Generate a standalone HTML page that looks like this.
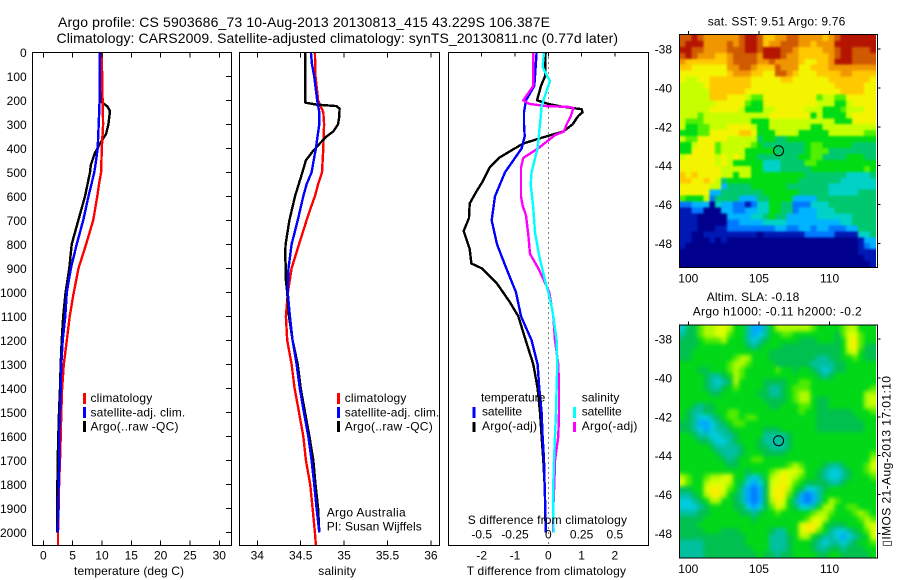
<!DOCTYPE html>
<html>
<head>
<meta charset="utf-8">
<title>Argo profile 5903686_73</title>
<style>
html,body{margin:0;padding:0;background:#fff}
body{width:900px;height:580px;overflow:hidden}
svg{display:block}
text{font-family:"Liberation Sans",sans-serif;font-size:12px;fill:#000}
.t14{font-size:14px}
</style>
</head>
<body>
<svg id="chart" xmlns="http://www.w3.org/2000/svg" width="900" height="580" viewBox="0 0 900 580">
<defs>
<clipPath id="clip-map1"><rect x="679.5" y="34.5" width="196.5" height="233"/></clipPath>
<clipPath id="clip-map2"><rect x="679.5" y="325" width="196.5" height="233"/></clipPath>
<filter id="blur-map1" filterUnits="userSpaceOnUse" x="660" y="10" width="240" height="280" color-interpolation-filters="sRGB"><feGaussianBlur stdDeviation="1"/></filter>
<filter id="blur-map2" filterUnits="userSpaceOnUse" x="660" y="300" width="240" height="280" color-interpolation-filters="sRGB"><feGaussianBlur stdDeviation="2.2"/></filter>
</defs>
<rect x="0" y="0" width="900" height="580" fill="#fff"/>
<g id="map1"></g>
<g id="map2"></g>
<g id="panels"></g>

<text class="t14" x="58" y="27" textLength="492" lengthAdjust="spacing">Argo profile: CS 5903686_73 10-Aug-2013 20130813_415 43.229S 106.387E</text>
<text class="t14" x="56.5" y="43" textLength="561.5" lengthAdjust="spacing">Climatology: CARS2009. Satellite-adjusted climatology: synTS_20130811.nc (0.77d later)</text>

<text x="74" y="575" textLength="110" lengthAdjust="spacing">temperature (deg C)</text>
<text x="318.3" y="575" textLength="37.7" lengthAdjust="spacing">salinity</text>
<text x="466.7" y="575" textLength="159.3" lengthAdjust="spacing">T difference from climatology</text>
<text x="467.7" y="524" textLength="159.3" lengthAdjust="spacing">S difference from climatology</text>

<g>
<rect x="83" y="393" width="3" height="11" fill="#f00"/>
<rect x="83" y="407" width="3" height="11" fill="#00f"/>
<rect x="83" y="421" width="3" height="11" fill="#000"/>
<text x="90.5" y="402" textLength="61.7" lengthAdjust="spacing">climatology</text>
<text x="90.5" y="416.5" textLength="94.7" lengthAdjust="spacing">satellite-adj. clim.</text>
<text x="90.5" y="430.5" textLength="88" lengthAdjust="spacing">Argo(..raw -QC)</text>
</g>
<g>
<rect x="337" y="393" width="3" height="11" fill="#f00"/>
<rect x="337" y="407" width="3" height="11" fill="#00f"/>
<rect x="337" y="421" width="3" height="11" fill="#000"/>
<text x="344.7" y="402" textLength="61.7" lengthAdjust="spacing">climatology</text>
<text x="344.7" y="416.5" textLength="94.7" lengthAdjust="spacing">satellite-adj. clim.</text>
<text x="344.7" y="430.5" textLength="88" lengthAdjust="spacing">Argo(..raw -QC)</text>
<text x="326.7" y="516.7" textLength="79" lengthAdjust="spacing">Argo Australia</text>
<text x="326.7" y="530.7" textLength="95" lengthAdjust="spacing">PI: Susan Wijffels</text>
</g>
<g>
<text x="481" y="401.7" textLength="64.3" lengthAdjust="spacing">temperature</text>
<rect x="472.5" y="407" width="3" height="11" fill="#00f"/>
<text x="482" y="415.7" textLength="40" lengthAdjust="spacing">satellite</text>
<rect x="472.5" y="422" width="3" height="10" fill="#000"/>
<text x="482" y="430" textLength="55" lengthAdjust="spacing">Argo(-adj)</text>
<text x="581.7" y="401.7" textLength="37.7" lengthAdjust="spacing">salinity</text>
<rect x="573" y="407" width="3" height="11" fill="#0ff"/>
<text x="581.7" y="415.7" textLength="40" lengthAdjust="spacing">satellite</text>
<rect x="573" y="422" width="3" height="10" fill="#f0f"/>
<text x="581.7" y="430" textLength="55.7" lengthAdjust="spacing">Argo(-adj)</text>
</g>

<text x="707.7" y="25.7" textLength="137.6" lengthAdjust="spacing">sat. SST: 9.51  Argo: 9.76</text>
<text x="706.7" y="301" textLength="92.6" lengthAdjust="spacing">Altim. SLA: -0.18</text>
<text x="692.7" y="315.7" textLength="169" lengthAdjust="spacing">Argo h1000: -0.11 h2000: -0.2</text>
<text transform="translate(890.7,546.7) rotate(-90)" x="0" y="0" textLength="170.7" lengthAdjust="spacing">▯IMOS 21-Aug-2013 17:01:10</text>
</svg>

<script>
// ---- profile data (depth in dbar) ----
const depthTicks = [0,100,200,300,400,500,600,700,800,900,1000,1100,1200,1300,1400,1500,1600,1700,1800,1900,2000];
const tempTicks = [0,5,10,15,20,25,30];
const salTicks = [34,34.5,35,35.5,36];
const salTickLabels = ['34','34.5','35','35.5','36'];
const tDiffTicks = [-2,-1,0,1,2];
const sDiffTicks = [-0.5,-0.25,0,0.25,0.5];
const sDiffTickLabels = ['-0.5','-0.25','0','0.25','0.5'];

const climTempDepth = [0,200,300,400,500,550,600,700,800,900,1000,1100,1200,1300,1400,1500,1600,1700,1800,1900,2000,2055];
const climTemp = [9.95,10.1,10.2,9.97,9.85,9.5,9.2,8.5,7.3,6.0,5.2,4.5,4.0,3.5,3.2,3.07,2.96,2.85,2.7,2.6,2.5,2.5];
const satTempDepth = [0,200,300,400,450,500,600,700,800,900,1000,1100,1200,1300,1400,1500,1600,1700,1800,1900,2000];
const satTemp = [9.6,9.6,9.44,9.27,9.0,8.7,7.7,6.8,5.7,4.7,4.0,3.75,3.3,3.07,2.96,2.85,2.73,2.73,2.6,2.56,2.45];
const argoTempDepth = [0,205,225,245,300,340,380,420,470,500,600,700,800,900,1000,1100,1200,1300,1400,1500,1600,1700,1800,1900,2000];
const argoTemp = [9.6,9.75,10.9,11.37,11.1,10.7,9.66,8.8,8.1,7.96,7.1,5.97,4.84,4.43,3.8,3.4,3.14,2.96,2.85,2.68,2.56,2.45,2.4,2.4,2.4];

const climSalDepth = [0,100,200,250,300,400,500,550,600,650,700,800,900,1000,1100,1200,1300,1400,1500,1600,1700,1800,1900,2000,2055];
const climSal = [34.664,34.67,34.70,34.76,34.77,34.76,34.745,34.70,34.664,34.614,34.568,34.48,34.395,34.353,34.33,34.345,34.395,34.43,34.48,34.53,34.56,34.61,34.637,34.664,34.675];
const satSalDepth = [0,50,100,200,250,300,350,400,450,500,550,600,700,800,900,1000,1100,1200,1300,1400,1500,1600,1700,1800,1900,2000];
const satSal = [34.618,34.63,34.656,34.69,34.714,34.714,34.695,34.675,34.65,34.626,34.568,34.53,34.465,34.395,34.36,34.35,34.376,34.407,34.453,34.49,34.537,34.587,34.626,34.656,34.683,34.714];
const argoSalDepth = [0,210,218,224,235,270,300,330,350,380,410,450,500,600,700,800,850,900,950,1000,1100,1200,1300,1400,1500,1600,1700,1800,1900,2000];
const argoSal = [34.553,34.553,34.683,34.914,34.948,34.944,34.93,34.875,34.8,34.72,34.645,34.56,34.52,34.434,34.37,34.326,34.32,34.33,34.33,34.345,34.365,34.407,34.465,34.5,34.55,34.6,34.645,34.67,34.7,34.714];

const satDiffTDepth = [0,100,140,200,250,300,350,400,500,600,700,800,900,1000,1100,1200,1300,1400,1500,1600,1700,1800,1900,2000];
const satDiffT = [-0.35,-0.4,-0.42,-0.67,-0.73,-0.73,-0.71,-0.8,-1.3,-1.6,-1.7,-1.54,-1.26,-0.97,-0.82,-0.5,-0.32,-0.27,-0.2,-0.17,-0.13,-0.11,-0.09,-0.07];
const argoDiffTDepth = [0,100,140,200,215,225,237,250,265,300,330,350,380,400,440,480,540,580,630,690,745,820,880,900,960,1040,1100,1200,1300,1400,1500,1600,1700,1800,1900,2000];
const argoDiffT = [-0.08,-0.1,-0.22,-0.34,0,0.35,1.0,1.03,0.9,0.73,0.45,-0.05,-0.75,-1.0,-1.48,-1.76,-1.98,-2.16,-2.36,-2.38,-2.54,-2.36,-2.31,-2.0,-1.56,-1.16,-0.9,-0.68,-0.45,-0.32,-0.25,-0.2,-0.15,-0.11,-0.09,-0.08];
const argoDiffSDepth = [0,140,170,200,215,224,228,232,265,300,330,345,400,440,480,600,640,680,760,840,900,960,1000,1060,1100,1200,1300,1400,1500,1600,1700,1800,1900,2000];
const argoDiffS = [-0.45,-0.45,-0.6,-0.75,-0.57,-0.05,0.65,0.75,0.68,0.55,0.47,0.2,-0.3,-0.75,-0.82,-0.82,-0.77,-0.67,-0.6,-0.55,-0.3,-0.1,0.03,0.1,0.15,0.2,0.3,0.32,0.32,0.3,0.2,0.18,0.15,0.15];
const satDiffSDepth = [0,60,100,120,180,225,300,400,500,550,650,750,850,950,1000,1060,1100,1200,1300,1400,1500,1600,1700,1800,1900,2000];
const satDiffS = [-0.13,-0.17,-0.03,0.05,-0.1,-0.2,-0.25,-0.32,-0.5,-0.53,-0.45,-0.4,-0.27,-0.1,0,0.1,0.15,0.25,0.27,0.25,0.23,0.2,0.17,0.15,0.15,0.16];
const zeroLineDepth = [0,2055];
const zeroLineValue = [0,0];

// ---- map data (colour levels) ----
const lonTicks = [100,105,110];
const latTicks = [-38,-40,-42,-44,-46,-48];
const profileLon = 106.387;
const profileLat = -43.229;
const sstLevels = [
[12,12,13,12,11,11,11,11,11,11,12,13,13,12,10,10,11,11,12,12,11,11,11,11,10,11,12,13,13,13,13,13,13],
[12,13,13,13,11,11,11,11,12,11,12,13,13,12,10,11,11,12,12,12,11,11,10,11,11,11,13,13,13,13,13,13,13],
[13,13,12,12,11,11,11,11,12,12,12,13,13,12,13,13,13,12,12,11,10,10,10,10,11,11,12,13,13,12,12,12,13],
[12,13,12,11,11,11,10,10,11,12,12,12,12,11,13,13,13,12,11,11,10,10,10,10,10,11,12,13,13,12,12,12,12],
[11,10,10,10,10,10,10,10,11,12,12,12,12,11,11,12,11,11,11,11,10,9,9,10,10,11,13,13,13,12,12,12,12],
[10,10,9,9,9,9,9,9,11,11,12,12,11,10,10,10,12,11,11,11,9,9,10,10,10,11,11,11,11,11,11,11,11],
[9,9,9,9,9,9,9,9,10,11,11,11,10,10,9,9,12,12,11,10,9,9,9,10,10,10,10,11,11,10,10,10,10],
[9,8,8,9,9,10,10,10,10,10,10,10,9,9,9,9,9,10,10,9,9,9,9,9,9,10,10,10,10,10,10,10,9],
[8,8,8,8,9,10,10,10,10,10,10,10,9,9,9,9,9,9,9,9,9,9,9,9,9,9,10,10,10,10,10,9,9],
[8,8,8,8,8,10,10,10,10,10,10,9,9,9,9,9,9,9,9,9,9,9,9,9,9,9,9,10,10,10,10,9,9],
[8,8,8,8,8,10,10,10,9,9,9,8,7,7,9,9,9,9,9,9,9,9,9,7,8,8,7,7,9,9,9,9,9],
[8,8,8,8,8,8,9,9,9,9,9,7,6,6,9,9,9,9,9,9,9,9,9,8,8,8,6,6,8,9,9,9,9],
[8,8,8,8,8,9,9,9,9,9,8,6,6,6,8,8,9,9,9,9,9,8,8,8,6,6,6,7,8,8,8,9,9],
[8,8,8,7,8,8,8,8,8,8,8,8,8,8,8,9,9,9,9,9,9,9,6,8,6,6,6,6,8,9,9,9,9],
[8,7,7,7,8,8,8,8,8,8,8,8,6,6,6,8,8,8,8,8,8,8,8,8,8,8,6,6,6,9,9,9,9],
[8,6,6,7,7,8,8,8,9,9,9,9,8,6,6,8,8,8,8,8,8,8,6,6,8,8,8,8,8,8,8,8,8],
[6,6,6,7,7,9,9,9,9,9,10,10,9,6,6,6,8,8,8,8,6,6,6,6,6,8,8,8,8,8,8,7,7],
[8,7,7,9,9,9,9,9,8,8,8,8,8,5,6,6,5,5,6,6,6,6,6,6,6,6,6,6,6,6,6,6,6],
[6,6,8,9,9,9,7,8,8,8,8,8,7,6,5,5,5,5,5,5,5,6,7,7,6,6,6,6,6,5,5,5,5],
[6,6,9,9,9,9,7,8,8,8,8,6,6,6,6,6,5,5,5,5,5,6,7,7,7,5,5,5,5,5,5,5,5],
[8,9,9,9,9,9,8,9,8,9,8,6,6,5,5,5,5,5,5,5,6,6,7,7,5,5,5,5,6,6,6,5,5],
[9,9,9,9,9,9,8,9,8,6,6,6,6,6,4,4,4,5,5,5,5,7,7,6,6,6,6,6,6,6,6,6,6],
[9,9,9,9,9,9,9,8,8,8,8,8,6,6,4,4,4,5,5,5,5,5,6,6,6,6,6,6,6,6,6,7,6],
[10,9,10,9,9,9,9,8,8,6,8,8,6,6,6,6,6,6,6,6,6,5,5,5,5,5,5,5,4,4,4,4,5],
[10,10,9,9,10,9,8,5,6,6,6,6,6,6,6,6,6,6,6,6,5,5,5,5,5,5,5,4,4,4,4,4,4],
[9,9,9,9,9,8,8,3,5,5,5,5,6,6,6,6,6,6,5,5,5,5,5,5,5,4,4,4,4,4,4,4,4],
[9,9,9,9,9,3,3,5,5,5,5,5,5,5,6,6,6,6,6,6,5,5,5,5,5,4,4,4,4,4,5,5,5],
[7,6,6,6,8,2,5,5,5,5,3,3,3,5,5,6,6,6,6,3,3,3,3,5,5,5,5,5,5,5,5,5,5],
[2,2,3,3,3,0,4,3,3,2,2,1,2,4,4,6,6,5,5,2,2,2,4,4,4,5,5,5,5,5,5,5,5],
[1,1,2,2,0,0,0,3,3,2,2,3,3,4,4,6,6,5,5,2,3,3,3,4,4,4,5,5,5,5,5,5,5],
[1,1,1,0,0,0,0,0,3,3,3,3,4,4,5,6,5,5,3,3,3,3,3,4,4,4,4,4,4,5,5,5,5],
[1,1,1,0,0,0,0,0,2,2,3,3,3,3,4,4,4,4,3,3,3,3,3,3,3,3,3,4,4,5,5,5,5],
[1,1,1,0,0,0,1,1,2,2,2,2,2,2,2,2,3,3,2,2,3,3,2,3,3,2,2,2,3,3,5,5,5],
[1,1,0,0,1,1,1,1,1,1,1,1,1,0,1,1,1,1,1,1,1,2,2,2,2,2,1,1,1,1,4,4,5],
[1,1,0,0,0,1,0,1,0,0,0,0,0,0,0,0,0,0,0,0,0,0,0,0,0,0,0,0,0,0,1,3,3],
[1,0,0,0,0,0,0,0,0,0,0,0,0,0,0,0,0,0,0,0,0,0,0,0,0,0,0,0,0,0,1,2,3],
[0,0,0,0,0,0,0,0,0,0,0,0,0,0,0,0,0,0,0,0,0,0,0,0,0,0,0,0,0,0,1,1,1],
[0,0,0,0,0,0,0,0,0,0,0,0,0,0,0,0,0,0,0,0,0,0,0,0,0,0,0,0,0,0,0,1,1],
[0,0,0,0,0,0,0,0,0,0,0,0,0,0,0,0,0,0,0,0,0,0,0,0,0,0,0,0,0,0,0,0,1]
];
const slaLevels = [
[2,4,4,6,7,7,8,8,7,5,5,3,1,1,3,5,7,7,7,7,7,7,6,5,5,5,5,6,7,7,5,5,5],
[3,4,4,6,7,7,8,8,6,5,5,3,1,2,3,5,5,6,6,5,5,5,5,5,5,5,4,6,8,8,6,5,5],
[4,4,4,5,6,6,6,7,5,5,5,3,2,3,4,5,5,5,5,5,4,4,4,5,5,5,4,5,8,9,6,5,5],
[4,4,4,5,5,5,5,5,5,5,5,4,3,4,5,5,5,4,4,4,4,4,4,4,4,4,4,5,8,9,6,4,4],
[4,4,5,5,5,5,5,5,5,5,5,5,5,5,5,4,4,4,4,4,4,4,4,4,4,4,4,5,7,8,5,4,4],
[4,4,5,5,5,5,5,5,5,6,7,7,5,5,5,4,4,4,4,4,4,4,4,3,3,4,4,5,5,6,5,4,4],
[5,5,5,5,5,5,5,5,6,7,7,6,5,5,5,5,4,4,4,4,4,4,3,3,3,3,4,4,5,5,5,5,5],
[5,5,5,4,4,5,5,5,6,7,6,5,5,5,5,5,6,5,5,4,5,5,4,3,2,3,4,4,5,5,5,5,5],
[5,5,5,5,4,3,3,4,5,7,6,5,5,5,5,5,5,5,5,5,5,5,5,4,3,4,5,5,5,5,5,5,5],
[5,5,5,5,4,3,2,3,4,7,5,5,5,5,4,4,4,4,5,5,6,6,5,5,5,5,5,5,5,5,5,5,5],
[5,5,5,5,4,3,3,4,5,6,5,5,5,5,4,3,3,4,5,6,6,6,5,5,5,5,5,5,5,5,5,5,6],
[5,5,5,5,5,4,4,5,5,5,5,5,5,4,4,3,3,4,5,6,7,7,5,5,5,5,5,5,5,5,5,7,7],
[5,5,5,5,5,5,5,5,5,5,5,5,5,5,4,4,4,4,5,6,7,7,5,4,4,5,5,5,5,5,5,7,8],
[5,5,4,3,4,4,5,5,5,5,5,5,5,5,5,4,4,5,5,5,6,6,5,4,4,5,5,5,5,5,5,7,7],
[5,4,3,3,4,4,5,5,6,6,5,5,5,5,5,5,5,5,5,5,6,5,5,4,4,4,4,4,4,5,5,5,6],
[5,4,3,2,2,3,4,5,6,6,5,6,6,5,5,5,5,5,5,5,5,5,5,4,4,4,4,4,4,4,5,5,5],
[4,4,3,1,1,2,3,4,5,6,6,5,5,5,5,5,5,5,5,5,5,5,5,4,4,4,4,4,4,4,4,5,5],
[4,4,3,2,1,2,3,3,4,5,5,5,5,5,4,4,4,5,5,5,5,5,5,4,4,4,4,4,4,4,4,5,5],
[5,5,4,3,3,2,2,3,3,4,5,5,5,5,3,3,3,3,4,5,5,5,5,5,5,5,5,5,5,5,5,5,5],
[5,5,5,4,4,3,2,2,3,4,5,5,5,4,3,3,3,3,4,5,5,5,5,5,5,5,5,5,5,5,5,5,5],
[5,5,5,5,5,4,3,3,3,3,4,5,5,4,4,3,3,3,4,5,5,5,5,5,5,5,5,5,5,5,5,5,5],
[5,5,5,5,5,5,4,3,3,3,4,5,5,5,4,4,4,4,5,5,5,5,5,5,5,5,5,5,5,5,5,5,6],
[5,5,5,5,5,5,5,4,3,4,5,5,6,6,5,5,5,5,5,5,5,5,5,5,5,5,5,5,5,5,5,5,7],
[5,5,5,5,5,5,5,5,4,4,5,5,5,5,5,5,5,5,6,7,6,5,5,5,4,3,3,4,5,5,5,6,8],
[5,5,5,5,5,5,5,5,5,5,5,4,5,5,5,6,7,8,8,8,7,5,5,4,3,2,2,3,4,5,5,6,7],
[7,6,5,5,6,7,7,8,8,5,5,3,2,3,5,7,8,9,8,7,6,5,5,4,3,2,2,3,4,5,5,5,6],
[8,6,5,5,7,8,8,8,7,5,4,2,1,2,4,8,8,9,8,6,5,4,4,4,4,3,3,4,5,5,5,5,5],
[4,4,5,5,8,9,9,8,6,5,3,1,0,1,4,8,9,9,7,5,4,2,2,3,4,5,5,5,5,5,5,5,5],
[3,3,4,5,7,9,9,7,5,4,3,1,0,1,4,8,9,9,6,4,1,0,1,3,5,5,5,5,5,5,5,5,5],
[2,2,3,4,5,7,7,5,5,4,3,1,0,1,4,7,9,8,5,3,1,0,1,3,5,7,6,5,5,5,5,5,5],
[2,2,2,3,4,5,5,5,5,4,4,2,1,2,4,6,8,7,5,4,2,2,3,5,7,7,5,5,6,6,5,5,5],
[3,3,3,4,4,5,5,5,5,5,4,4,3,4,5,5,6,5,5,5,5,5,6,7,7,6,5,5,5,6,7,6,5],
[4,4,4,4,5,5,5,5,5,5,5,5,4,5,5,5,5,5,5,5,5,6,8,8,7,5,5,5,5,5,6,7,6],
[4,4,4,5,5,5,5,5,5,5,5,5,5,5,5,5,5,5,5,5,8,9,9,8,5,4,4,4,5,5,5,7,8],
[4,4,4,4,5,5,5,4,4,4,5,5,5,5,5,4,3,3,5,5,8,9,9,6,5,3,2,2,3,4,5,6,8],
[4,4,4,4,4,4,4,4,4,4,4,5,5,5,5,3,3,3,4,5,7,7,5,4,3,3,2,1,2,3,4,5,8],
[3,3,3,3,4,4,4,4,4,4,4,5,5,5,5,3,3,3,4,5,5,5,4,3,2,3,3,2,3,4,5,5,6],
[3,3,3,3,4,4,4,4,4,4,4,4,5,5,5,3,3,3,4,5,5,5,4,3,3,4,4,3,4,4,4,5,5],
[3,3,3,3,4,4,4,4,4,4,4,4,4,5,4,4,3,4,4,5,5,5,5,4,4,5,5,4,4,4,4,4,5]
];
const sstPalette = ['#00008c','#0018b4','#0078ff','#00b4ff','#00d2c8','#00c86e','#00dc14','#50f000','#c8ff00','#f4f400','#ffc800','#f09600','#d05a00','#b41400'];
const slaPalette = ['#0078ff','#00a8ff','#00ccdc','#00c0a0','#00c050','#00d818','#50ec00','#b0fa00','#dcff00','#f8f000'];

// ---- axis functions ----
const NS = 'http://www.w3.org/2000/svg';
const yDepth = d => 52.3 + 0.24 * d;
const xTemp = t => 43.3 + 5.867 * t;
const xSal = s => 257.3 + 86.8 * (s - 34);
const xTDiff = t => 548.3 + 33.3 * t;
const xSDiff = s => 548.3 + 133.2 * s;
const xLon = lon => 688.3 + 14.13 * (lon - 100);

const panelsG = document.getElementById('panels');

function svgEl(tag, parent) {
  const el = document.createElementNS(NS, tag);
  parent.appendChild(el);
  return el;
}
function line(parent, x1, y1, x2, y2, name) {
  const el = svgEl('line', parent);
  el.setAttribute('x1', x1); el.setAttribute('y1', y1);
  el.setAttribute('x2', x2); el.setAttribute('y2', y2);
  el.setAttribute('stroke', '#000');
  el.setAttribute('stroke-width', 1);
  el.setAttribute('shape-rendering', 'crispEdges');
  
  
  return el;
}
function label(parent, x, y, str, anchor, name) {
  const el = svgEl('text', parent);
  el.setAttribute('x', x); el.setAttribute('y', y);
  el.setAttribute('text-anchor', anchor);
  el.textContent = str;
  
  
  return el;
}
function frame(parent, x, y, w, h, name) {
  const el = svgEl('rect', parent);
  el.setAttribute('x', x); el.setAttribute('y', y);
  el.setAttribute('width', w); el.setAttribute('height', h);
  el.setAttribute('fill', 'none');
  el.setAttribute('stroke', '#000');
  el.setAttribute('stroke-width', 1);
  el.setAttribute('shape-rendering', 'crispEdges');
  
  
}
function series(parent, xs, ds, xf, color, name, width, dash) {
  const el = svgEl('polyline', parent);
  el.setAttribute('points', xs.map((v, i) => xf(v).toFixed(1) + ',' + yDepth(ds[i]).toFixed(1)).join(' '));
  el.setAttribute('fill', 'none');
  el.setAttribute('stroke', color);
  el.setAttribute('stroke-width', width);
  if (dash) el.setAttribute('stroke-dasharray', dash);
  el.setAttribute('shape-rendering', 'crispEdges');
  el.setAttribute('stroke-linejoin', 'round');
  
  
}

const panelTop = 52.5, panelBottom = 545.5;
const LW = 2.4;

// temperature panel
const p1 = svgEl('g', panelsG);


series(p1, argoTemp, argoTempDepth, xTemp, '#000', 'series-argo-temperature', LW);
series(p1, climTemp, climTempDepth, xTemp, '#f00', 'series-climatology-temperature', LW);
series(p1, satTemp, satTempDepth, xTemp, '#00f', 'series-satellite-temperature', LW);
frame(p1, 32.5, panelTop, 199, panelBottom - panelTop, 'temperature-panel-frame');
depthTicks.forEach(d => {
  line(p1, 226, yDepth(d), 231, yDepth(d), 'depth-tick');
  label(p1, 26.7, yDepth(d) + 4.5, String(d), 'end', 'depth-tick-label');
});
tempTicks.forEach(t => {
  line(p1, xTemp(t), panelTop, xTemp(t), panelTop + 5, 'temperature-top-tick');
  line(p1, xTemp(t), panelBottom, xTemp(t), panelBottom - 5, 'temperature-bottom-tick');
  label(p1, xTemp(t), 559.5, String(t), 'middle', 'temperature-tick-label');
});

// salinity panel
const p2 = svgEl('g', panelsG);


series(p2, climSal, climSalDepth, xSal, '#f00', 'series-climatology-salinity', LW);
series(p2, argoSal, argoSalDepth, xSal, '#000', 'series-argo-salinity', LW);
series(p2, satSal, satSalDepth, xSal, '#00f', 'series-satellite-salinity', LW);
frame(p2, 239.5, panelTop, 200, panelBottom - panelTop, 'salinity-panel-frame');
salTicks.forEach((s, i) => {
  line(p2, xSal(s), panelTop, xSal(s), panelTop + 5, 'salinity-top-tick');
  line(p2, xSal(s), panelBottom, xSal(s), panelBottom - 5, 'salinity-bottom-tick');
  label(p2, xSal(s), 559.5, salTickLabels[i], 'middle', 'salinity-tick-label');
});

// difference panel
const p3 = svgEl('g', panelsG);


series(p3, zeroLineValue, zeroLineDepth, xTDiff, '#000', 'zero-difference-line', 1, '1 4');
series(p3, argoDiffT, argoDiffTDepth, xTDiff, '#000', 'series-argo-t-difference', LW);
series(p3, satDiffT, satDiffTDepth, xTDiff, '#00f', 'series-satellite-t-difference', LW);
series(p3, argoDiffS, argoDiffSDepth, xTDiff, '#f0f', 'series-argo-s-difference', LW);
series(p3, satDiffS, satDiffSDepth, xTDiff, '#0ff', 'series-satellite-s-difference', LW);
frame(p3, 448.5, panelTop, 200, panelBottom - panelTop, 'difference-panel-frame');
tDiffTicks.forEach(t => {
  line(p3, xTDiff(t), panelTop, xTDiff(t), panelTop + 4, 'difference-top-tick');
  label(p3, xTDiff(t), 559.5, String(t), 'middle', 't-difference-tick-label');
});
sDiffTicks.forEach((s, i) => {
  label(p3, xSDiff(s), 538.7, sDiffTickLabels[i], 'middle', 's-difference-tick-label');
});

// maps
function drawMap(gid, levels, palette, top, lat38Y, labelY) {
  const g = document.getElementById(gid);
  const rows = levels.length, cols = levels[0].length;
  const left = 679.5, mapW = 196.5, mapH = 232;
  const cw = mapW / cols, ch = mapH / rows;
  const yLat = lat => lat38Y + 19.45 * (-38 - lat);
  const clipG = svgEl('g', g);
  clipG.setAttribute('clip-path', 'url(#clip-' + gid + ')');
  
  
  const cellsG = svgEl('g', clipG);
  cellsG.setAttribute('filter', 'url(#blur-' + gid + ')');
  
  
  levels.forEach((row, r) => {
    row.forEach((v, c) => {
      const cell = svgEl('rect', cellsG);
      // edge cells extend past the clip so the blur does not fade at the border
      const padL = c === 0 ? 10 : 0, padR = c === cols - 1 ? 10 : 0;
      const padT = r === 0 ? 10 : 0, padB = r === rows - 1 ? 10 : 0;
      cell.setAttribute('x', (left + c * cw - padL).toFixed(2));
      cell.setAttribute('y', (top + r * ch - padT).toFixed(2));
      cell.setAttribute('width', (cw + 0.4 + padL + padR).toFixed(2));
      cell.setAttribute('height', (ch + 0.4 + padT + padB).toFixed(2));
      cell.setAttribute('fill', palette[v]);
      cell.setAttribute('shape-rendering', 'crispEdges');
      
      
    });
  });
  frame(g, 679.5, top - 0.5, 198, mapH + 1, 'map-frame');
  lonTicks.forEach(lon => {
    line(g, xLon(lon), top - 4, xLon(lon), top, 'map-longitude-tick');
    label(g, xLon(lon), labelY, String(lon), 'middle', 'map-longitude-label');
  });
  latTicks.forEach(lat => {
    line(g, 877.5, yLat(lat), 880.5, yLat(lat), 'map-latitude-tick');
    label(g, 672, yLat(lat) + 4.5, String(lat), 'end', 'map-latitude-label');
  });
  const m = svgEl('circle', g);
  m.setAttribute('cx', xLon(profileLon));
  m.setAttribute('cy', yLat(profileLat));
  m.setAttribute('r', 5);
  m.setAttribute('fill', 'none');
  m.setAttribute('stroke', '#000');
  m.setAttribute('stroke-width', 1);
  
  
}
drawMap('map1', sstLevels, sstPalette, 35, 49, 282.7);
drawMap('map2', slaLevels, slaPalette, 325.5, 339, 573);
</script>
</body>
</html>
